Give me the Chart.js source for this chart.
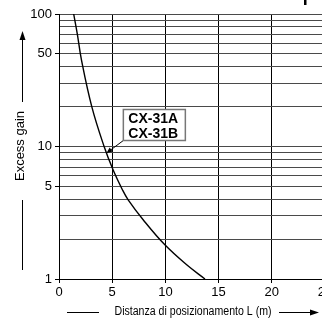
<!DOCTYPE html>
<html>
<head>
<meta charset="utf-8">
<script src="https://cdn.jsdelivr.net/npm/chart.js@4/dist/chart.umd.min.js"></script>
<style>
  html, body { margin: 0; padding: 0; background: #fff; overflow: hidden; }
  #wrap { position: absolute; left: 0; top: 0; width: 330px; height: 320px; }
</style>
</head>
<body>
<div id="wrap"><canvas id="chart" width="330" height="320"></canvas></div>
<script>
// Curve: distance L (m) vs excess gain
const distance = [1.38, 1.73, 2.11, 3.08, 4.24, 5.08, 5.97, 6.5, 7.91, 9.95, 12.0, 13.72];
const gain     = [100,  70,   45,   20,   10,   6.67, 4.7,  3.96, 2.8, 1.81, 1.28, 1.0];

// Axis ticks
const xTicks = [0, 5, 10, 15, 20, 25];
const yGrid = [1, 2, 3, 4, 5, 6, 7, 8, 9, 10, 20, 30, 40, 50, 60, 70, 80, 90, 100];
const yLabels = [1, 5, 10, 50, 100];

const seriesName = ["CX-31A", "CX-31B"];
const xTitle = "Distanza di posizionamento L (m)";
const yTitle = "Excess gain";

const FONT = "'Liberation Sans', Arial, sans-serif";

function arrowHead(ctx, x, y, dir, len, half) {
  // dir: angle the arrow points to
  ctx.save();
  ctx.translate(x, y);
  ctx.rotate(dir);
  ctx.beginPath();
  ctx.moveTo(0, 0);
  ctx.lineTo(-len, -half);
  ctx.lineTo(-len, half);
  ctx.closePath();
  ctx.fill();
  ctx.restore();
}

const decorations = {
  id: "decorations",
  afterDraw(chart) {
    const ctx = chart.ctx;
    const xs = chart.scales.x;
    const ys = chart.scales.y;
    ctx.save();
    ctx.fillStyle = "#000";
    ctx.strokeStyle = "#000";
    ctx.lineWidth = 1;

    // y title with line and arrow
    ctx.beginPath();
    ctx.moveTo(22.5, 270);
    ctx.lineTo(22.5, 200);
    ctx.moveTo(22.5, 102);
    ctx.lineTo(22.5, 38);
    ctx.stroke();
    arrowHead(ctx, 22.5, 31, -Math.PI / 2, 9, 3);
    ctx.save();
    ctx.translate(20, 146);
    ctx.rotate(-Math.PI / 2);
    ctx.font = "13px " + FONT;
    ctx.textAlign = "center";
    ctx.textBaseline = "middle";
    ctx.fillText(yTitle, 0, 0);
    ctx.restore();

    // x title with lines and arrow
    ctx.beginPath();
    ctx.moveTo(67, 312.5);
    ctx.lineTo(99, 312.5);
    ctx.moveTo(279, 312.5);
    ctx.lineTo(311, 312.5);
    ctx.stroke();
    arrowHead(ctx, 319, 312.5, 0, 9, 3);
    ctx.font = "12px " + FONT;
    ctx.textAlign = "center";
    ctx.textBaseline = "middle";
    ctx.fillText(xTitle, 193, 312, 157);

    // label box with leader to the curve
    const tipX = xs.getPixelForValue(4.45);
    const tipY = ys.getPixelForValue(8.9);
    const bx = tipX + 17, by = 109.5, bw = 62, bh = 31;
    ctx.beginPath();
    ctx.moveTo(bx, by + bh);
    ctx.lineTo(tipX + 4, tipY - 3);
    ctx.stroke();
    arrowHead(ctx, tipX, tipY, Math.atan2(tipY - (by + bh), tipX - bx), 6, 2.5);
    ctx.fillStyle = "#fff";
    ctx.fillRect(bx, by, bw, bh);
    ctx.strokeStyle = "#777";
    ctx.lineWidth = 1.5;
    ctx.strokeRect(bx, by, bw, bh);
    ctx.fillStyle = "#000";
    ctx.font = "bold 14px " + FONT;
    ctx.textAlign = "left";
    ctx.textBaseline = "middle";
    ctx.fillText(seriesName[0], bx + 5, 119.5);
    ctx.fillText(seriesName[1], bx + 5, 134.5);

    // cut-off mark at the top right
    ctx.fillRect(304, 0, 2.5, 5);
    ctx.restore();
  }
};

new Chart(document.getElementById("chart"), {
  type: "scatter",
  data: {
    datasets: [{
      label: seriesName.join(" / "),
      data: distance.map((d, i) => ({ x: d, y: gain[i] })),
      showLine: true,
      borderColor: "#000",
      borderWidth: 1.4,
      pointRadius: 0,
      tension: 0.4,
      fill: false
    }]
  },
  options: {
    responsive: false,
    animation: false,
    layout: { padding: { top: 14, right: 5, bottom: 0, left: 0 } },
    plugins: { legend: { display: false }, tooltip: { enabled: false } },
    scales: {
      x: {
        type: "linear",
        min: 0,
        max: 25,
        afterBuildTicks: s => { s.ticks = xTicks.map(v => ({ value: v })); },
        afterFit: s => { s.height = 41; s.paddingRight = 0; s.paddingLeft = 0; },
        grid: { color: "#000", lineWidth: 1, tickLength: 4, tickColor: "#000" },
        border: { color: "#000", width: 1 },
        ticks: { color: "#000", font: { family: FONT, size: 13 }, padding: 2, maxRotation: 0, autoSkip: false }
      },
      y: {
        type: "logarithmic",
        min: 1,
        max: 100,
        afterBuildTicks: s => { s.ticks = yGrid.map(v => ({ value: v })); },
        afterFit: s => { s.width = 59; },
        grid: {
          color: "#4a4a4a",
          lineWidth: 1,
          tickLength: 4,
          tickColor: c => (c.tick && yLabels.includes(c.tick.value)) ? "#000" : "rgba(0,0,0,0)"
        },
        border: { color: "#000", width: 1 },
        ticks: {
          color: "#000",
          font: { family: FONT, size: 13 },
          padding: 3,
          autoSkip: false,
          callback: v => yLabels.includes(v) ? String(v) : ""
        }
      }
    }
  },
  plugins: [decorations]
});
</script>
</body>
</html>
